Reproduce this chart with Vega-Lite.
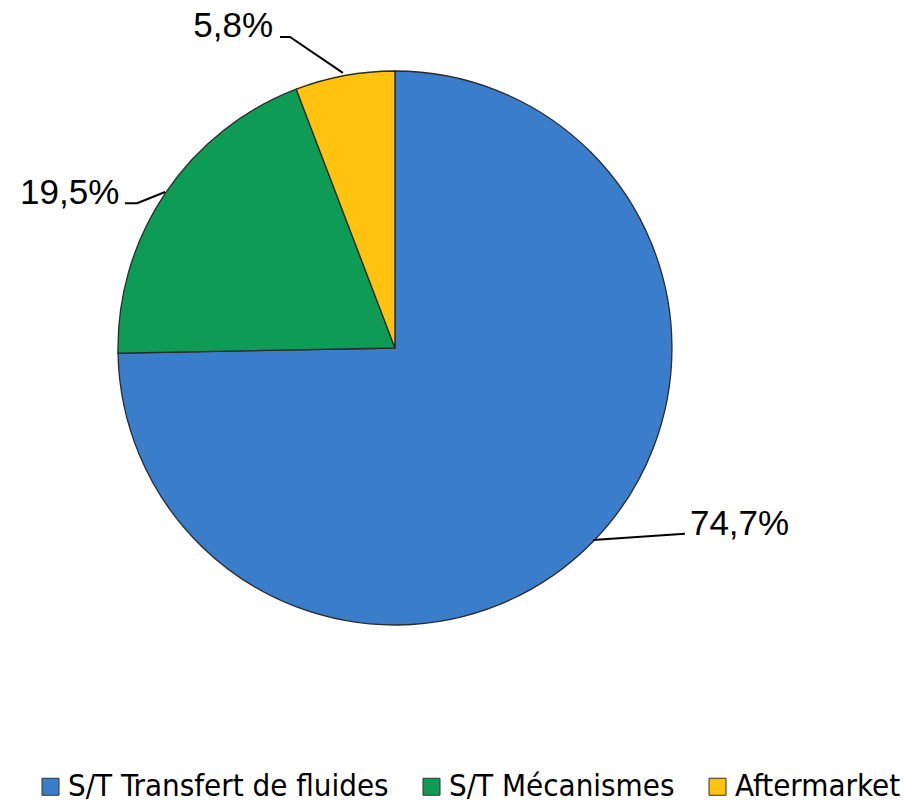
{
  "$schema": "https://vega.github.io/schema/vega-lite/v6.json",
  "width": 914,
  "height": 803,
  "padding": 0,
  "autosize": {"type": "none"},
  "background": "white",
  "config": {"view": {"stroke": null}},
  "datasets": {
    "slices": [
      {"segment": "S/T Transfert de fluides", "share": 74.7, "rank": 1, "cx": 0, "cy": 0},
      {"segment": "S/T Mécanismes", "share": 19.5, "rank": 2, "cx": 0, "cy": 0},
      {"segment": "Aftermarket", "share": 5.8, "rank": 3, "cx": 0, "cy": 0}
    ],
    "leaders": [
      {"g": "a", "k": 1, "u": -0.415, "v": 1.123},
      {"g": "a", "k": 2, "u": -0.379, "v": 1.123},
      {"g": "a", "k": 3, "u": -0.188, "v": 0.993},
      {"g": "b", "k": 1, "u": -0.975, "v": 0.523},
      {"g": "b", "k": 2, "u": -0.931, "v": 0.523},
      {"g": "b", "k": 3, "u": -0.830, "v": 0.563},
      {"g": "c", "k": 1, "u": 0.715, "v": -0.693},
      {"g": "c", "k": 2, "u": 1.047, "v": -0.671}
    ],
    "labelsRight": [
      {"txt": "5,8%", "u": -0.440, "v": 1.123},
      {"txt": "19,5%", "u": -0.995, "v": 0.520}
    ],
    "labelsLeft": [
      {"txt": "74,7%", "u": 1.065, "v": -0.675}
    ]
  },
  "layer": [
    {
      "data": {"name": "slices"},
      "mark": {"type": "arc", "outerRadius": 277, "stroke": "#2b2b2b", "strokeWidth": 1.3},
      "encoding": {
        "x": {"field": "cx", "type": "quantitative", "scale": {"domain": [-1.426, 1.874], "nice": false, "zero": false}, "axis": null},
        "y": {"field": "cy", "type": "quantitative", "scale": {"domain": [-1.6426, 1.2563], "nice": false, "zero": false}, "axis": null},
        "theta": {"field": "share", "type": "quantitative", "stack": true},
        "order": {"field": "rank", "type": "quantitative"},
        "color": {
          "field": "segment",
          "type": "nominal",
          "sort": ["S/T Transfert de fluides", "S/T Mécanismes", "Aftermarket"],
          "scale": {"domain": ["S/T Transfert de fluides", "S/T Mécanismes", "Aftermarket"], "range": ["#3A7DCB", "#0E9B55", "#FFC20E"]},
          "legend": {
            "title": null,
            "orient": "none",
            "legendX": 35,
            "legendY": 771,
            "direction": "horizontal",
            "symbolType": "square",
            "symbolSize": 289,
            "symbolStrokeColor": "#333333",
            "symbolStrokeWidth": 1,
            "labelFont": "DejaVu Sans Condensed",
            "labelFontSize": 31,
            "labelColor": "#000000",
            "labelOffset": 2,
            "labelLimit": 500,
            "columnPadding": 27
          }
        }
      }
    },
    {
      "data": {"name": "leaders"},
      "mark": {"type": "line", "color": "#000000", "strokeWidth": 2},
      "encoding": {
        "x": {"field": "u", "type": "quantitative", "axis": null},
        "y": {"field": "v", "type": "quantitative", "axis": null},
        "detail": {"field": "g"},
        "order": {"field": "k", "type": "quantitative"}
      }
    },
    {
      "data": {"name": "labelsRight"},
      "mark": {"type": "text", "align": "right", "baseline": "alphabetic", "font": "Liberation Sans", "fontSize": 35, "color": "#000000"},
      "encoding": {
        "x": {"field": "u", "type": "quantitative", "axis": null},
        "y": {"field": "v", "type": "quantitative", "axis": null},
        "text": {"field": "txt"}
      }
    },
    {
      "data": {"name": "labelsLeft"},
      "mark": {"type": "text", "align": "left", "baseline": "alphabetic", "font": "Liberation Sans", "fontSize": 35, "color": "#000000"},
      "encoding": {
        "x": {"field": "u", "type": "quantitative", "axis": null},
        "y": {"field": "v", "type": "quantitative", "axis": null},
        "text": {"field": "txt"}
      }
    }
  ]
}
